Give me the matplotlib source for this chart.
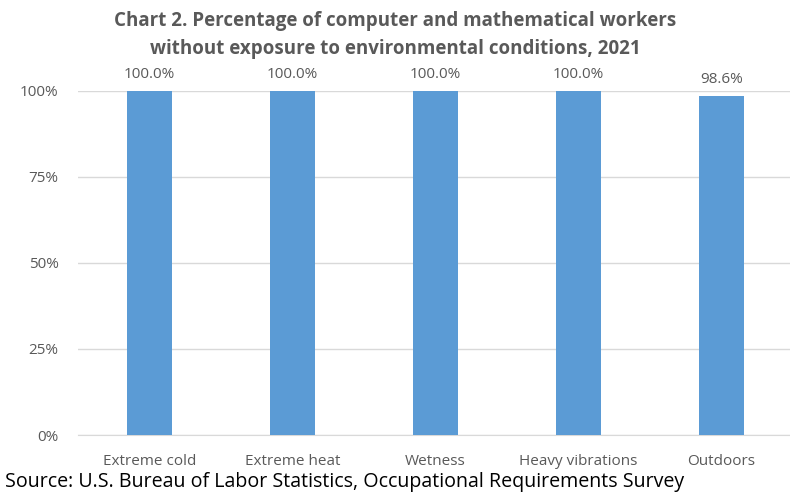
import numpy as np
import matplotlib.pyplot as plt

categories = ['Extreme cold', 'Extreme heat', 'Wetness', 'Heavy vibrations', 'Outdoors']
values = [100.0, 100.0, 100.0, 100.0, 98.6]
yticks = [0, 25, 50, 75, 100]

plt.rcParams['font.family'] = ['Open Sans', 'DejaVu Sans']
grey = '#595959'

fig = plt.figure(figsize=(7.9, 4.95), dpi=100)
ax = fig.add_axes([0.0987, 0.1212, 0.905, 0.6950])

x = np.arange(len(categories))
ax.bar(x, values, width=0.31, color='#5B9BD5', zorder=3)
for xi, v in zip(x, values):
    ax.text(xi, v + 2.5, f'{v:.1f}%', ha='center', va='bottom', fontsize=11, color=grey)

ax.set_xlim(-0.5, len(categories) - 0.5)
ax.set_ylim(0, 100)
ax.set_yticks(yticks)
ax.set_yticklabels([f'{t}%' for t in yticks])
ax.set_xticks(x)
ax.set_xticklabels(categories)
ax.yaxis.grid(True, color='#D9D9D9', linewidth=1, zorder=0)
ax.tick_params(axis='both', length=0, labelsize=11, labelcolor=grey)
ax.tick_params(axis='x', pad=14)
ax.tick_params(axis='y', pad=14)
for s in ['top', 'right', 'left']:
    ax.spines[s].set_visible(False)
ax.spines['bottom'].set_color('#D9D9D9')

fig.text(0.5, 0.978, 'Chart 2. Percentage of computer and mathematical workers\n'
         'without exposure to environmental conditions, 2021',
         ha='center', va='top', fontsize=13.5, fontweight='bold', color=grey,
         linespacing=1.55)
fig.text(0.006, 0.026, 'Source: U.S. Bureau of Labor Statistics, Occupational Requirements Survey',
         ha='left', va='center', fontsize=14.1, color='black')

fig.savefig('out.png', dpi=100)
